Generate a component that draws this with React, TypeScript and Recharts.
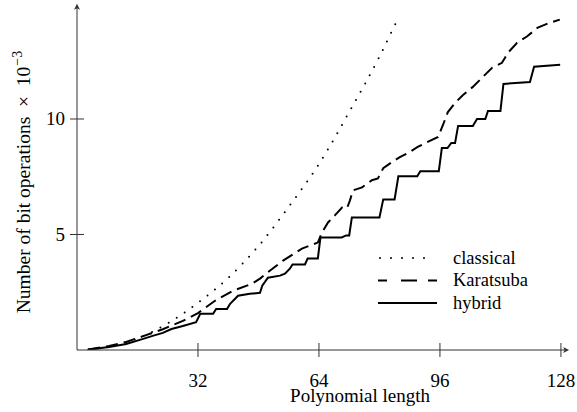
import { Legend, Line, LineChart, XAxis, YAxis } from 'recharts';

const FONT = '"Liberation Serif", "DejaVu Serif", serif';
const INK = '#000';
const AXIS = '#333';

const xTicks = [32, 64, 96, 128];
const yTicks = [5, 10];

const classicalN = [3, 8, 16, 24, 32, 40, 48, 56, 64, 72, 80, 84.6];
const classicalOps = [0.02, 0.13, 0.5, 1.15, 2.04, 3.12, 4.5, 6.2, 8.05, 10.3, 12.7, 14.25];

const karatsubaN = [
	3, 8.5, 13, 17.5, 22.7, 28, 32, 36.5, 41.3, 46.3, 48.4, 51, 54.5, 59.5, 63.7, 64.8, 66.4, 68.2,
	70.1, 71.4, 72.2, 73, 75.4, 78, 79.6, 81, 83.3, 85.4, 88, 90, 92.6, 95.5, 96.8, 98.1, 100, 102.1,
	104.7, 107.1, 109.8, 112.4, 114, 116.4, 119, 121.9, 125.1, 127.7,
];
const karatsubaOps = [
	0.02, 0.17, 0.35, 0.6, 0.9, 1.26, 1.6, 2.13, 2.57, 2.87, 3.09, 3.43, 3.87, 4.39, 4.65, 5.09, 5.52,
	5.83, 6.17, 6.13, 6.48, 6.91, 7.04, 7.35, 7.43, 7.87, 8.13, 8.35, 8.57, 8.78, 9.0, 9.22, 9.74, 10.3,
	10.7, 11.04, 11.39, 11.78, 12.22, 12.43, 12.87, 13.3, 13.57, 13.96, 14.17, 14.3,
];

const hybridN = [
	3, 8.5, 13, 17.5, 20, 22.7, 25, 28, 31.5, 32.6, 36, 36.8, 39.7, 40.5, 42.6, 45.7, 48.4, 49, 50.5,
	53.7, 55, 56.3, 57, 60.3, 61, 63.7, 64.4, 70, 71.2, 72, 72.7, 80, 81, 84, 85, 90, 90.8, 95.7, 96.5,
	98, 99, 100, 100.8, 104.7, 105.8, 108, 108.7, 112, 112.8, 119.8, 120.9, 127.8,
];
const hybridOps = [
	0.02, 0.13, 0.26, 0.48, 0.61, 0.74, 0.91, 1.04, 1.2, 1.57, 1.57, 1.78, 1.78, 2.0, 2.35, 2.43, 2.48,
	2.78, 3.13, 3.22, 3.3, 3.52, 3.7, 3.7, 3.96, 3.96, 4.87, 4.87, 4.96, 4.96, 5.74, 5.74, 6.52, 6.52,
	7.52, 7.52, 7.74, 7.74, 8.74, 8.74, 8.96, 8.96, 9.7, 9.7, 10.0, 10.0, 10.35, 10.35, 11.52, 11.6,
	12.26, 12.35,
];

const toPoints = (ns: number[], ops: number[]) => ns.map((n, i) => ({ n, ops: ops[i] }));

const classicalData = toPoints(classicalN, classicalOps);
const karatsubaData = toPoints(karatsubaN, karatsubaOps);
const hybridData = toPoints(hybridN, hybridOps);

function XTick(props: any) {
	const { x, y, payload } = props;
	return (
		<g>
			<line x1={x} x2={x} y1={y - 7} y2={y + 7} stroke={AXIS} strokeWidth={1} />
			<text x={x} y={y + 37} textAnchor="middle" fontFamily={FONT} fontSize={19} fill={INK}>
				{payload.value}
			</text>
		</g>
	);
}

function YTick(props: any) {
	const { x, y, payload } = props;
	return (
		<g>
			<line x1={x - 7} x2={x + 7} y1={y} y2={y} stroke={AXIS} strokeWidth={1} />
			<text x={x - 12} y={y + 6.5} textAnchor="end" fontFamily={FONT} fontSize={19} fill={INK}>
				{payload.value}
			</text>
		</g>
	);
}

function XLabel(props: any) {
	const { x, y, width } = props.viewBox;
	const tip = x + width + 2.5;
	return (
		<g>
			<path
				d={`M${tip},${y} L${tip - 6},${y - 3} L${tip - 4.5},${y} L${tip - 6},${y + 3} Z`}
				fill={AXIS}
			/>
			<text x={360} y={402} textAnchor="middle" fontFamily={FONT} fontSize={19} fill={INK}>
				Polynomial length
			</text>
		</g>
	);
}

function YLabel(props: any) {
	const { x, y, width } = props.viewBox;
	const ax = x + width;
	const tip = y - 2;
	return (
		<g>
			<path
				d={`M${ax},${tip} L${ax - 3},${tip + 6} L${ax},${tip + 4.5} L${ax + 3},${tip + 6} Z`}
				fill={AXIS}
			/>
			<text
				x={30}
				y={182}
				transform="rotate(-90 30 182)"
				textAnchor="middle"
				fontFamily={FONT}
				fontSize={19.5}
				fill={INK}
			>
				{'Number of bit operations\u2002\u00d7\u200210'}
				<tspan fontSize={14} dx={1} dy={-8}>
					{'\u2212'}3
				</tspan>
			</text>
		</g>
	);
}

const legendRows = [
	{ name: 'classical', dash: '0 11', width: 2 },
	{ name: 'Karatsuba', dash: '9 14 16 11 9', width: 2 },
	{ name: 'hybrid', dash: undefined, width: 2 },
];

function LegendBox() {
	return (
		<svg width={170} height={70} style={{ display: 'block' }}>
			{legendRows.map((row, i) => {
				const cy = 13 + i * 22.5;
				return (
					<g key={row.name}>
						<line
							x1={row.name === 'classical' ? 5 : 3}
							x2={row.name === 'classical' ? 60 : 62}
							y1={cy}
							y2={cy}
							stroke={INK}
							strokeWidth={row.width}
							strokeDasharray={row.dash}
							strokeLinecap={row.name === 'classical' ? 'round' : 'butt'}
						/>
						<text x={78} y={cy + 5.5} fontFamily={FONT} fontSize={18.5} fill={INK}>
							{row.name}
						</text>
					</g>
				);
			})}
		</svg>
	);
}

export default function App() {
	return (
		<div style={{ position: 'absolute', left: 0, top: 0, width: 577, height: 412, background: '#fff' }}>
			<LineChart
				width={577}
				height={412}
				margin={{ top: 5.8, right: 10.4, bottom: 12, left: 17 }}
			>
				<XAxis
					type="number"
					dataKey="n"
					domain={[0, 129.5]}
					ticks={xTicks}
					height={50}
					stroke={AXIS}
					tickLine={false}
					tickSize={0}
					tickMargin={0}
					tick={<XTick />}
					label={<XLabel />}
					allowDataOverflow
				/>
				<YAxis
					type="number"
					domain={[0, 14.9]}
					ticks={yTicks}
					width={60}
					stroke={AXIS}
					tickLine={false}
					tickSize={0}
					tickMargin={0}
					tick={<YTick />}
					label={<YLabel />}
					allowDataOverflow
				/>
				<Legend
					layout="vertical"
					align="center"
					verticalAlign="middle"
					content={() => <LegendBox />}
					wrapperStyle={{ position: 'absolute', left: 375, top: 245, width: 170, height: 70 }}
				/>
				<Line
					data={classicalData}
					dataKey="ops"
					name="classical"
					type="monotone"
					stroke={INK}
					strokeWidth={2}
					strokeDasharray="0 9.5"
					strokeLinecap="round"
					dot={false}
					activeDot={false}
					isAnimationActive={false}
				/>
				<Line
					data={karatsubaData}
					dataKey="ops"
					name="Karatsuba"
					type="linear"
					stroke={INK}
					strokeWidth={2}
					strokeDasharray="12 6"
					dot={false}
					activeDot={false}
					isAnimationActive={false}
				/>
				<Line
					data={hybridData}
					dataKey="ops"
					name="hybrid"
					type="linear"
					stroke={INK}
					strokeWidth={2}
					dot={false}
					activeDot={false}
					isAnimationActive={false}
				/>
			</LineChart>
		</div>
	);
}
